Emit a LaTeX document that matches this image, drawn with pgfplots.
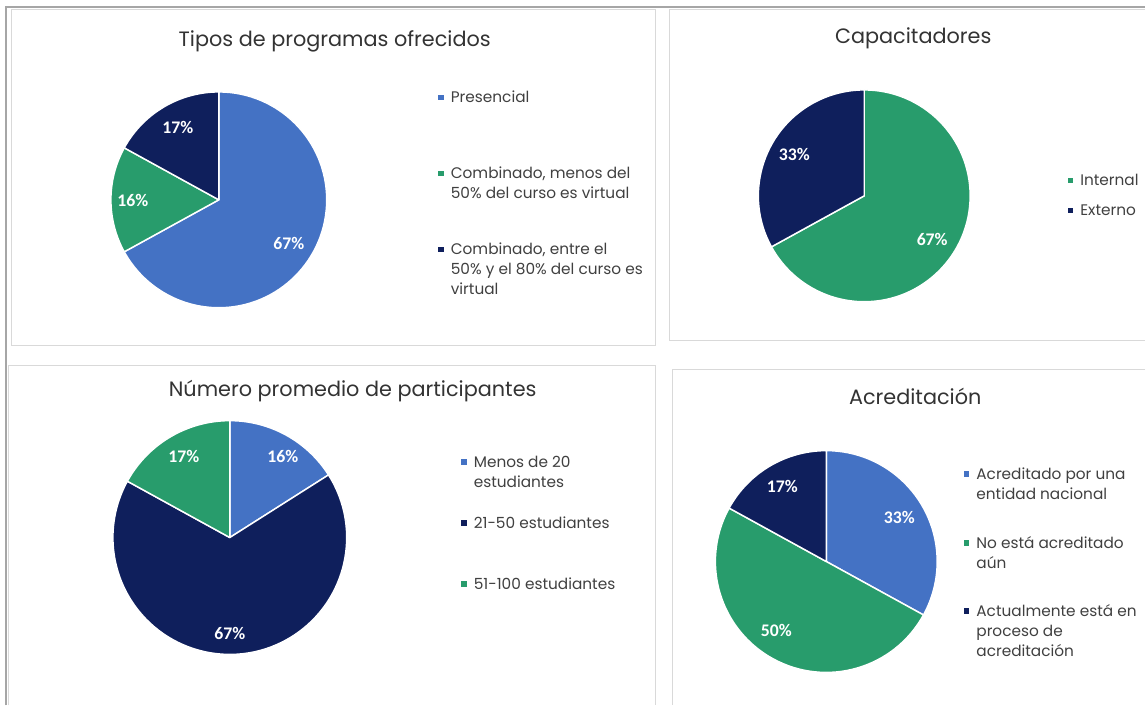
\documentclass[border=0pt]{standalone}
\usepackage{pgfplots}
\pgfplotsset{compat=1.18}
\usepackage{fontspec}
\setmainfont{Poppins}
\newfontfamily\labfont{Carlito}
\definecolor{cblue}{HTML}{4472C4}
\definecolor{cgreen}{HTML}{289C6C}
\definecolor{cnavy}{HTML}{0F1F5C}
\definecolor{titlec}{HTML}{333333}
\definecolor{legc}{HTML}{404040}
\definecolor{panelc}{HTML}{D9D9D9}
\definecolor{framec}{HTML}{A6A6A6}

% one pie: centre x, centre y, radius (px), list value/colour (clockwise from 12 o'clock)
\newcommand\drawpie[4]{%
  \xdef\pieang{90}%
  \foreach \pv/\pc in {#4}{%
    \pgfmathsetmacro\pieend{\pieang-3.6*\pv}%
    \edef\temp{\noexpand\fill[\pc, draw=white, line width=1.1pt, line join=round]
      (axis cs:#1,#2) -- ++(\pieang:#3*0.75pt)
      arc[start angle=\pieang, end angle=\pieend, radius=#3*0.75pt] -- cycle;}%
    \temp
    \xdef\pieang{\pieend}%
  }%
}
\newcommand\plab[3]{\node[font={\fontsize{13.3}{16}\selectfont\labfont\bfseries}, text=white, inner sep=0pt] at (axis cs:#1,#2) {#3};}
\newcommand\ttl[3]{\node[font={\fontsize{15.6}{18}\selectfont}, text=titlec, inner sep=0pt, anchor=base] at (axis cs:#1,#2) {#3};}

\pgfplotsset{
  canvas/.style={
    x=0.75pt, y=0.75pt, y dir=reverse,
    xmin=0, xmax=1146, ymin=0, ymax=706,
    hide axis, clip=false, at={(0,0)}, anchor=south west,
    legend image code/.code={\path (0pt,0pt); \fill[##1, draw=none] (0pt,2.1pt) rectangle (4.1pt,6.2pt);},
    legend style={draw=none, fill=none, inner sep=0pt, outer sep=0pt,
      row sep=0pt, column sep=5.25pt, anchor=north west,
      cells={anchor=base west},
      nodes={inner sep=0pt, outer sep=0pt, text=legc},
      font=\fontsize{11.5}{15}\selectfont},
  },
}
% one legend entry (its own small legend): left x, top y (px), colour, lines
\newcommand\legentry[4]{%
  \begin{axis}[canvas, legend style={at={(axis cs:#1,#2)}}]
    \addlegendimage{fill=#3}
    \addlegendentry{\parbox[t]{1pt}{\strut#4}}
  \end{axis}%
}

\begin{document}
\begin{tikzpicture}
% ---------- Tipos de programas ofrecidos ----------
\begin{axis}[canvas]
  \fill[white] (axis cs:0,0) rectangle (axis cs:1146,706);
  \draw[framec, line width=1.5pt] (axis cs:6,706) -- (axis cs:6,7) -- (axis cs:1146,7);
  \draw[panelc, line width=0.75pt] (axis cs:12,10) rectangle (axis cs:656,346);
  \draw[panelc, line width=0.75pt] (axis cs:1146,10) -- (axis cs:670,10) -- (axis cs:670,341) -- (axis cs:1146,341);
  \draw[panelc, line width=0.75pt] (axis cs:9,706) -- (axis cs:9,366) -- (axis cs:656,366) -- (axis cs:656,706);
  \draw[panelc, line width=0.75pt] (axis cs:1146,370) -- (axis cs:673,370) -- (axis cs:673,706);
  \ttl{335}{47}{Tipos de programas ofrecidos}
  \drawpie{219}{200}{108}{67/cblue,16/cgreen,17/cnavy}
  \plab{289}{244}{67\%}
  \plab{133}{201}{16\%}
  \plab{178}{128}{17\%}
\end{axis}
\legentry{438.5}{89}{cblue}{\mbox{Presencial}}
\legentry{438.5}{165}{cgreen}{\mbox{Combinado, menos del}\\\mbox{50\% del curso es virtual}}
\legentry{438.5}{241}{cnavy}{\mbox{Combinado, entre el}\\\mbox{50\% y el 80\% del curso es}\\\mbox{virtual}}
% ---------- Capacitadores ----------
\begin{axis}[canvas]
  \ttl{914}{44}{Capacitadores}
  \drawpie{865}{196}{106}{67/cgreen,33/cnavy}
  \plab{933}{240}{67\%}
  \plab{795}{155}{33\%}
\end{axis}
\legentry{1068.5}{172}{cgreen}{\mbox{Internal}}
\legentry{1068.5}{202}{cnavy}{\mbox{Externo}}
% ---------- Número promedio de participantes ----------
\begin{axis}[canvas]
  \ttl{353}{397}{Número promedio de participantes}
  \drawpie{230}{538}{117}{16/cblue,67/cnavy,17/cgreen}
  \plab{283}{457}{16\%}
  \plab{184}{457}{17\%}
  \plab{230}{634}{67\%}
\end{axis}
\legentry{461.5}{454}{cblue}{\mbox{Menos de 20}\\\mbox{estudiantes}}
\legentry{461.5}{515}{cnavy}{\mbox{21-50 estudiantes}}
\legentry{461.5}{576}{cgreen}{\mbox{51-100 estudiantes}}
% ---------- Acreditación ----------
\begin{axis}[canvas]
  \ttl{916}{405}{Acreditación}
  \drawpie{827}{562}{111}{33/cblue,50/cgreen,17/cnavy}
  \plab{900}{518}{33\%}
  \plab{783}{487}{17\%}
  \plab{777}{631}{50\%}
\end{axis}
\legentry{964.5}{466}{cblue}{\mbox{Acreditado por una}\\\mbox{entidad nacional}}
\legentry{964.5}{535}{cgreen}{\mbox{No está acreditado}\\\mbox{aún}}
\legentry{964.5}{603}{cnavy}{\mbox{Actualmente está en}\\\mbox{proceso de}\\\mbox{acreditación}}
\end{tikzpicture}
\end{document}
